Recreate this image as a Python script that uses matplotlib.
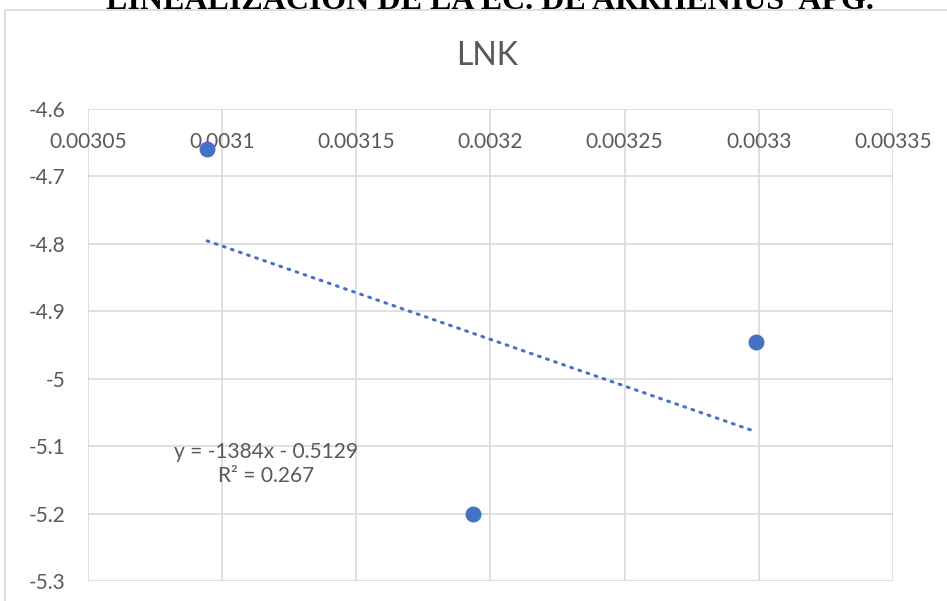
import matplotlib.pyplot as plt
import numpy as np

# datos
inv_t = [0.0030944, 0.0031933, 0.0032989]
ln_k = [-4.659, -5.200, -4.946]

x_ticks = [0.00305, 0.0031, 0.00315, 0.0032, 0.00325, 0.0033, 0.00335]
x_labels = ["0.00305", "0.0031", "0.00315", "0.0032", "0.00325", "0.0033", "0.00335"]
y_ticks = [-4.6, -4.7, -4.8, -4.9, -5.0, -5.1, -5.2, -5.3]
y_labels = ["-4.6", "-4.7", "-4.8", "-4.9", "-5", "-5.1", "-5.2", "-5.3"]

slope, intercept = -1384, -0.5129
r2 = 0.267

txt = "#595959"
grid = "#D9D9D9"
blue = "#4472C4"

plt.rcParams["font.family"] = ["Lato", "DejaVu Sans"]

fig = plt.figure(figsize=(9.47, 6.01), dpi=100)

# marco del gráfico
fig.patches.append(plt.Rectangle((5 / 947, -0.01), 1.0, 1 - 10 / 601 + 0.01,
                                 transform=fig.transFigure, fill=False,
                                 edgecolor="#D9D9D9", linewidth=1.2))

# encabezado del documento (cortado arriba, como en la captura)
fig.text(490 / 947, 1 - 9 / 601, "LINEALIZACION DE LA EC. DE ARRHENIUS  APG.",
         ha="center", va="baseline", fontsize=23, fontweight="bold",
         family=["Liberation Serif", "DejaVu Serif"], color="black")

ax = fig.add_axes([88 / 947, 1 - 581 / 601, (893 - 88) / 947, (581 - 109) / 601])

xt = np.array([inv_t[0], inv_t[-1]])
ax.plot(xt, slope * xt + intercept, color=blue, linewidth=2.2,
        linestyle=(0, (0.6, 2.2)), dash_capstyle="round", zorder=3)
ax.scatter(inv_t, ln_k, s=110, color=blue, zorder=4)

ax.set_xlim(0.00305, 0.00335)
ax.set_ylim(-5.3, -4.6)
ax.set_xticks(x_ticks)
ax.set_xticklabels(x_labels)
ax.set_yticks(y_ticks)
ax.set_yticklabels(y_labels)
ax.xaxis.set_ticks_position("top")
ax.tick_params(axis="x", length=0, pad=-31, labelsize=15, colors=txt)
ax.tick_params(axis="y", length=0, pad=16, labelsize=15, colors=txt)
ax.grid(True, color=grid, linewidth=1.2)
ax.set_axisbelow(True)
for s in ax.spines.values():
    s.set_visible(False)

fig.text(487 / 947, 1 - 56 / 601, "LNK", ha="center", va="center",
         fontsize=23, color=txt)

ax.text(0.0031164, -5.127, f"y = {slope}x - {abs(intercept)}\nR² = {r2}",
        ha="center", va="center", fontsize=15, color=txt, linespacing=1.25)

plt.savefig("out.png", dpi=100)
plt.close()
